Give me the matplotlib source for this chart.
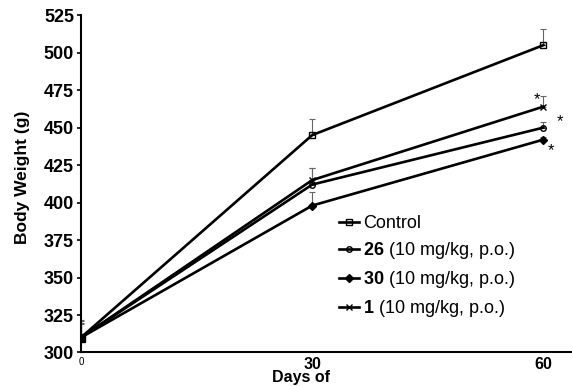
import numpy as np
import matplotlib
matplotlib.use('Agg')
from matplotlib import pyplot as plt

plt.rcParams['font.family'] = ['Liberation Sans', 'DejaVu Sans']
plt.rcParams['mathtext.fontset'] = 'custom'
plt.rcParams['mathtext.bf'] = 'Liberation Sans:bold'
plt.rcParams['mathtext.rm'] = 'Liberation Sans'

# donnees
jours = [0, 30, 60]
controle = [310, 445, 505]
controle_err = [11, 11, 11]
c26 = [310, 412, 450]
c26_err = [10, 11, 4]
c30 = [310, 398, 442]
c30_err = [9, 9, 2]
c1 = [310, 415, 464]
c1_err = [12, 8, 7]

etiquettes = ['Control',
              r'$\bf{26}$ (10 mg/kg, p.o.)',
              r'$\bf{30}$ (10 mg/kg, p.o.)',
              r'$\bf{1}$ (10 mg/kg, p.o.)']

fig = plt.figure(figsize=(5.72, 3.86), dpi=100)
ax = fig.add_axes([0.1416, 0.0868, 0.8584, 0.874])

series = [(controle, controle_err, 's', 'none'),
          (c26, c26_err, 'o', 'none'),
          (c30, c30_err, 'D', 'k'),
          (c1, c1_err, 'x', 'none')]

handles = []
for (vals, err, mk, fc), lab in zip(series, etiquettes):
    ax.errorbar(jours, vals, yerr=[np.zeros(3), err], fmt='none',
                ecolor='#666666', elinewidth=0.8, capsize=2.5, capthick=0.8)
    h, = ax.plot(jours, vals, color='k', lw=1.9, marker=mk, ms=4,
                 mfc=fc, mec='k', mew=1.0, label=lab)
    handles.append(h)

# point de depart (carre plein)
ax.plot([jours[0]], [controle[0]], 's', color='k', ms=6)

# etoiles de significativite
ax.annotate('*', (jours[2], c1[2] + c1_err[2]), xytext=(-6, -4),
            textcoords='offset pixels', ha='center', va='center', fontsize=12)
ax.annotate('*', (jours[2], c26[2]), xytext=(17, 6),
            textcoords='offset pixels', ha='center', va='center', fontsize=12)
ax.annotate('*', (jours[2], c30[2]), xytext=(8, -11),
            textcoords='offset pixels', ha='center', va='center', fontsize=12)

ax.set_xlim(0, 63.7)
ax.set_ylim(300, 525)
ax.set_yticks(np.arange(300, 526, 25))
ax.set_xticks(jours)
ax.set_xticklabels(['0', '30', '60'])
for lbl in ax.get_yticklabels():
    lbl.set_fontweight('bold')
    lbl.set_fontsize(13)
for i, lbl in enumerate(ax.get_xticklabels()):
    if i == 0:
        lbl.set_fontsize(7)
    else:
        lbl.set_fontweight('bold')
        lbl.set_fontsize(11.5)
ax.tick_params(axis='y', length=3, width=1.2, pad=2)
ax.tick_params(axis='x', length=0, pad=3)

for s in ['top', 'right']:
    ax.spines[s].set_visible(False)
ax.spines['left'].set_linewidth(1.5)
ax.spines['bottom'].set_linewidth(1.5)

ax.set_ylabel('Body Weight (g)', fontweight='bold', fontsize=12.5)
ax.yaxis.set_label_coords(-0.104, 0.52)
ax.set_xlabel('Days of', fontweight='bold', fontsize=11.5)
ax.xaxis.set_label_coords(0.448, -0.053)

leg = ax.legend(handles=handles, loc='upper left', bbox_to_anchor=(0.525, 0.408),
                frameon=False, fontsize=13, handlelength=1.1, handletextpad=0.25,
                labelspacing=0.45, borderaxespad=0, borderpad=0)

fig.savefig('out.png', dpi=100)
